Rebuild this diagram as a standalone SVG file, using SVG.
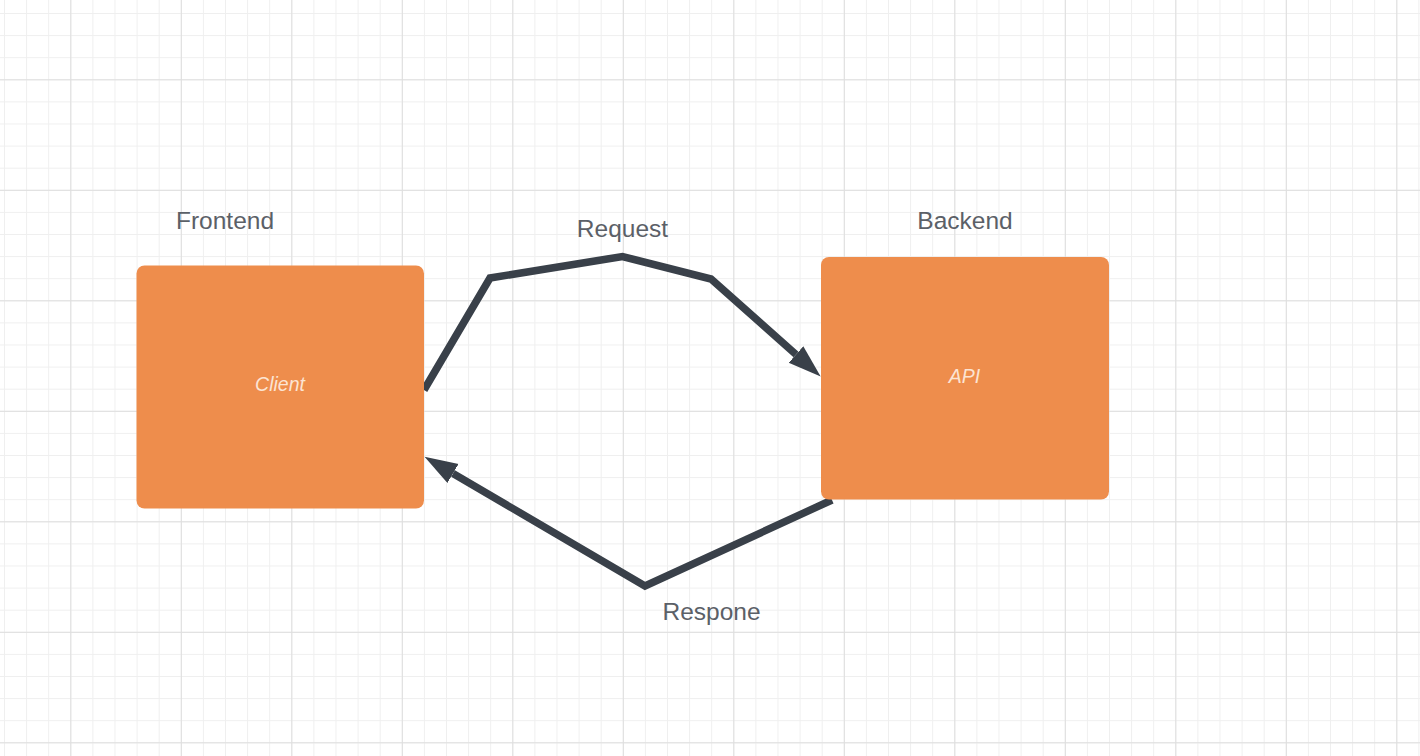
<svg xmlns="http://www.w3.org/2000/svg" width="1420" height="756" viewBox="0 0 1420 756">
  <style>
    .box { fill: #ee8d4c; }
    .inner { font-family: "Liberation Sans", Arial, sans-serif; font-style: italic; font-size: 19.5px; fill: #fce4d3; text-anchor: middle; }
    .label { font-family: "Liberation Sans", Arial, sans-serif; font-size: 24.5px; fill: #5b6067; text-anchor: middle; }
    .conn { fill: none; stroke: #394049; stroke-width: 7.5; stroke-linejoin: miter; stroke-linecap: butt; }
  </style>
  <defs>
    <pattern id="minor" patternUnits="userSpaceOnUse" x="4" y="13" width="22.1" height="22.1">
      <path d="M0.5 0 V22.1 M0 0.5 H22.1" stroke="#efefef" stroke-width="1" fill="none"/>
    </pattern>
    <pattern id="major" patternUnits="userSpaceOnUse" x="70.3" y="79.3" width="110.5" height="110.5">
      <path d="M0.5 0 V110.5 M0 0.5 H110.5" stroke="#dedede" stroke-width="1" fill="none"/>
    </pattern>
    <marker id="arrow" markerUnits="userSpaceOnUse" markerWidth="40" markerHeight="30" refX="0" refY="11" orient="auto">
      <path d="M0 0 L33 11 L0 22 Z" fill="#394049"/>
    </marker>
  </defs>
  <rect width="1420" height="756" fill="#ffffff"/>
  <rect width="1420" height="756" fill="url(#minor)"/>
  <rect width="1420" height="756" fill="url(#major)"/>

  <g id="connectors">
    <path id="request" class="conn" d="M424 390 L490 278 L622.5 256.5 L711 279 L796 354.5" marker-end="url(#arrow)"/>
    <path id="response" class="conn" d="M832 500 L645 586 L453 473.5" marker-end="url(#arrow)"/>
    <text class="label" x="622.5" y="237">Request</text>
    <text class="label" x="711.5" y="620">Respone</text>
  </g>

  <g id="client">
    <rect class="box" x="136.5" y="265.5" width="287.5" height="243" rx="8"/>
    <text class="inner" x="280" y="391">Client</text>
  </g>
  <g id="frontend-label">
    <text class="label" x="225" y="229">Frontend</text>
  </g>

  <g id="api">
    <rect class="box" x="821" y="257" width="288" height="242.5" rx="8"/>
    <text class="inner" x="964.5" y="383">API</text>
  </g>
  <g id="backend-label">
    <text class="label" x="965" y="229">Backend</text>
  </g>
</svg>
